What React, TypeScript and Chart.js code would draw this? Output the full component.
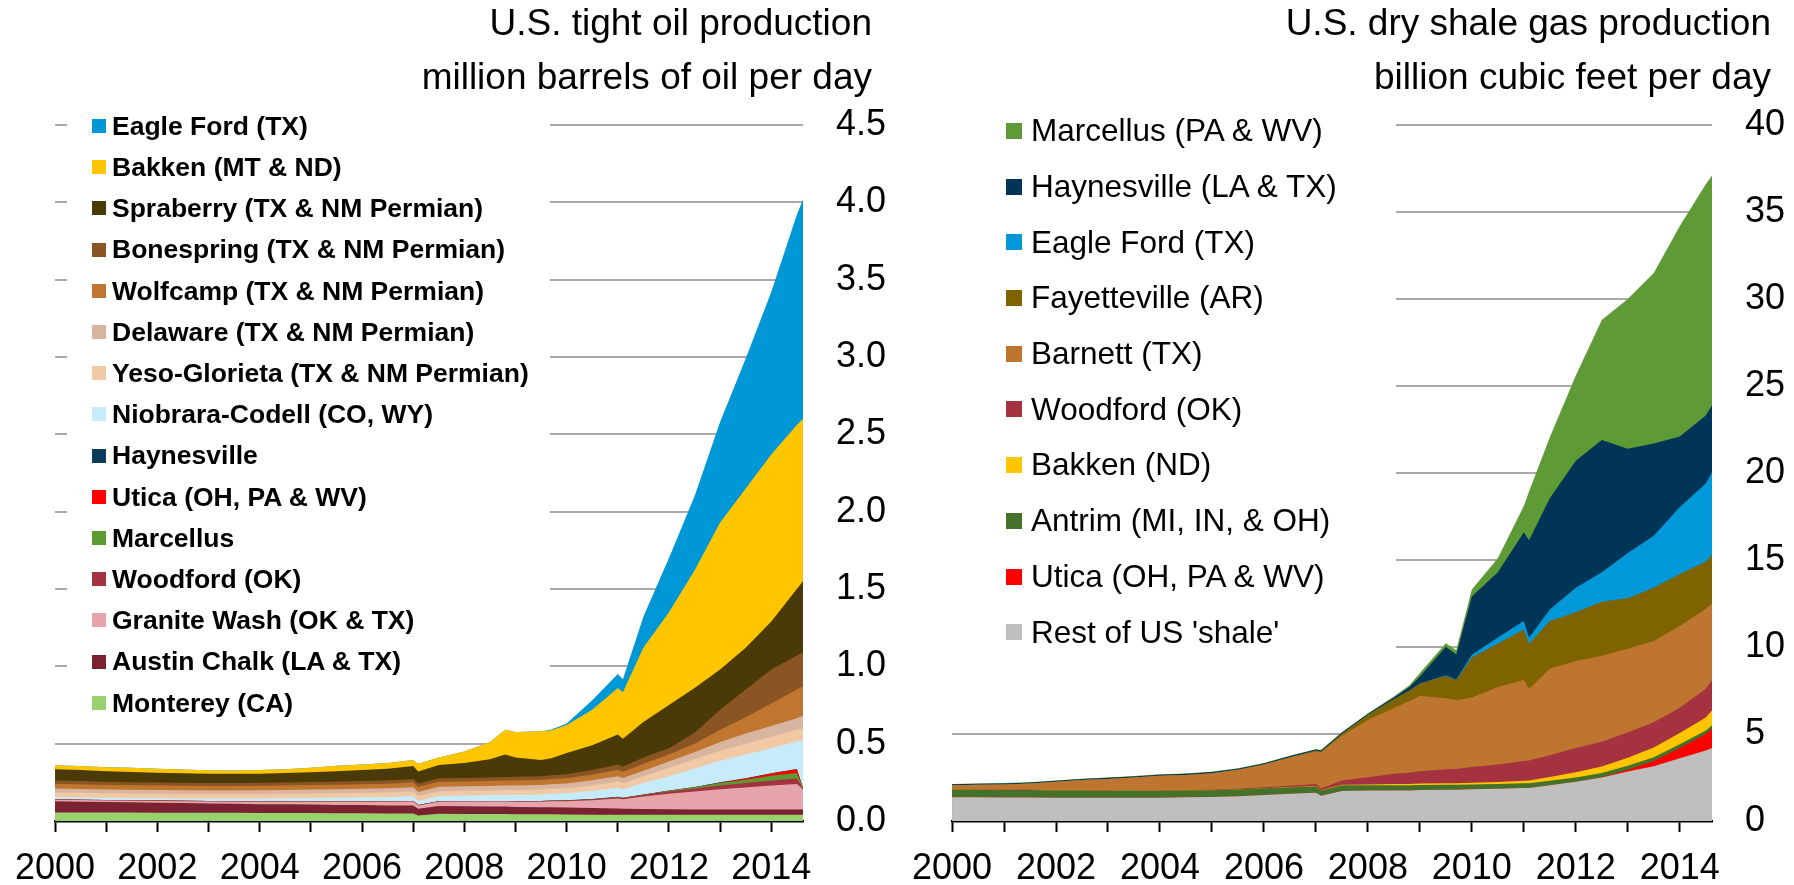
import React, { useEffect, useRef } from 'react';
import { Chart, registerables } from 'chart.js';

Chart.register(...registerables);

const FONT = '"Liberation Sans", Arial, Helvetica, sans-serif';

// Sample dates (decimal years)
const years = [
  2000, 2000.5, 2001, 2001.5, 2002, 2002.5, 2003, 2003.5, 2004, 2004.5,
  2005, 2005.5, 2006, 2006.5, 2007, 2007.1, 2007.5, 2008, 2008.5, 2008.8,
  2009, 2009.5, 2009.7, 2010, 2010.5, 2011, 2011.1, 2011.5, 2012, 2012.5,
  2013, 2013.5, 2014, 2014.5, 2014.62,
];

// ---------- Tight oil (million b/d), stacked bottom -> top ----------
const monterey = [0.055, 0.055, 0.055, 0.055, 0.054, 0.054, 0.053, 0.053, 0.052, 0.052, 0.051, 0.05, 0.05, 0.049, 0.048, 0.035, 0.047, 0.046, 0.045, 0.045, 0.044, 0.043, 0.043, 0.042, 0.041, 0.041, 0.04, 0.04, 0.04, 0.04, 0.04, 0.04, 0.04, 0.04, 0.04];
const austinChalk = [0.072, 0.07, 0.068, 0.066, 0.064, 0.062, 0.06, 0.058, 0.057, 0.056, 0.055, 0.054, 0.053, 0.052, 0.052, 0.045, 0.05, 0.05, 0.049, 0.048, 0.047, 0.046, 0.046, 0.045, 0.043, 0.04, 0.039, 0.038, 0.036, 0.035, 0.035, 0.035, 0.035, 0.035, 0.035];
const graniteWash = [0.01, 0.01, 0.01, 0.01, 0.012, 0.012, 0.013, 0.014, 0.015, 0.016, 0.018, 0.02, 0.022, 0.024, 0.026, 0.02, 0.028, 0.03, 0.032, 0.033, 0.034, 0.036, 0.038, 0.04, 0.05, 0.065, 0.062, 0.08, 0.1, 0.115, 0.13, 0.142, 0.155, 0.165, 0.13];
const woodfordOil = [0.003, 0.003, 0.003, 0.003, 0.003, 0.003, 0.003, 0.003, 0.003, 0.003, 0.003, 0.003, 0.003, 0.003, 0.003, 0.003, 0.003, 0.003, 0.003, 0.003, 0.004, 0.004, 0.004, 0.005, 0.006, 0.008, 0.008, 0.01, 0.015, 0.02, 0.025, 0.028, 0.032, 0.035, 0.003];
const marcellusOil = [0, 0, 0, 0, 0, 0, 0, 0, 0, 0, 0, 0, 0, 0, 0, 0, 0, 0, 0, 0, 0, 0, 0, 0, 0, 0, 0, 0.002, 0.004, 0.008, 0.015, 0.022, 0.03, 0.035, 0.002];
const uticaOil = [0, 0, 0, 0, 0, 0, 0, 0, 0, 0, 0, 0, 0, 0, 0, 0, 0, 0, 0, 0, 0, 0, 0, 0, 0, 0, 0, 0, 0, 0, 0.003, 0.008, 0.015, 0.025, 0.001];
const haynesvilleOil = [0, 0, 0, 0, 0, 0, 0, 0, 0, 0, 0, 0, 0, 0, 0, 0, 0, 0, 0, 0, 0, 0.001, 0.002, 0.002, 0.002, 0.002, 0.002, 0.002, 0.002, 0.002, 0.002, 0.002, 0.002, 0.002, 0.001];
const niobrara = [0.015, 0.014, 0.014, 0.014, 0.014, 0.015, 0.016, 0.017, 0.019, 0.02, 0.022, 0.024, 0.025, 0.027, 0.031, 0.027, 0.034, 0.036, 0.039, 0.041, 0.041, 0.042, 0.044, 0.046, 0.053, 0.059, 0.055, 0.073, 0.093, 0.12, 0.14, 0.153, 0.161, 0.178, 0.308];
const yesoGlorieta = [0.03, 0.03, 0.03, 0.03, 0.029, 0.029, 0.029, 0.029, 0.029, 0.029, 0.029, 0.029, 0.03, 0.03, 0.03, 0.03, 0.031, 0.03, 0.03, 0.03, 0.03, 0.031, 0.031, 0.032, 0.035, 0.04, 0.038, 0.045, 0.055, 0.06, 0.065, 0.07, 0.075, 0.075, 0.075];
const delaware = [0.025, 0.025, 0.024, 0.024, 0.024, 0.024, 0.024, 0.024, 0.024, 0.024, 0.025, 0.025, 0.025, 0.026, 0.028, 0.028, 0.029, 0.029, 0.029, 0.03, 0.03, 0.03, 0.03, 0.031, 0.033, 0.035, 0.034, 0.035, 0.04, 0.045, 0.055, 0.065, 0.07, 0.075, 0.085];
const wolfcamp = [0.03, 0.03, 0.029, 0.029, 0.029, 0.029, 0.029, 0.029, 0.029, 0.029, 0.029, 0.03, 0.03, 0.03, 0.032, 0.032, 0.032, 0.032, 0.032, 0.032, 0.032, 0.032, 0.033, 0.034, 0.037, 0.04, 0.039, 0.045, 0.045, 0.055, 0.08, 0.105, 0.145, 0.185, 0.19];
const bonespring = [0.022, 0.021, 0.021, 0.02, 0.02, 0.019, 0.019, 0.019, 0.019, 0.02, 0.02, 0.02, 0.02, 0.021, 0.022, 0.022, 0.022, 0.022, 0.023, 0.023, 0.024, 0.025, 0.025, 0.026, 0.03, 0.035, 0.035, 0.04, 0.04, 0.07, 0.13, 0.18, 0.22, 0.22, 0.22];
const spraberry = [0.073, 0.072, 0.068, 0.066, 0.063, 0.061, 0.059, 0.059, 0.059, 0.061, 0.063, 0.067, 0.072, 0.076, 0.083, 0.078, 0.086, 0.097, 0.118, 0.145, 0.124, 0.105, 0.11, 0.137, 0.16, 0.195, 0.18, 0.23, 0.28, 0.29, 0.26, 0.27, 0.31, 0.43, 0.46];
const bakkenOil = [0.025, 0.025, 0.026, 0.028, 0.026, 0.025, 0.023, 0.022, 0.024, 0.025, 0.03, 0.036, 0.035, 0.037, 0.04, 0.05, 0.048, 0.075, 0.11, 0.16, 0.165, 0.185, 0.18, 0.18, 0.23, 0.3, 0.3, 0.48, 0.6, 0.76, 0.95, 1.03, 1.08, 1.06, 1.05];
const eagleFordOil = [0, 0, 0, 0, 0, 0, 0, 0, 0, 0, 0, 0, 0, 0, 0, 0, 0, 0, 0, 0, 0, 0, 0.005, 0.01, 0.06, 0.09, 0.085, 0.2, 0.35, 0.48, 0.65, 0.84, 1.05, 1.36, 1.42];

// ---------- Dry shale gas (bcf/d), stacked bottom -> top ----------
const restShale = [1.37, 1.36, 1.35, 1.35, 1.34, 1.34, 1.33, 1.34, 1.34, 1.36, 1.38, 1.42, 1.5, 1.57, 1.62, 1.45, 1.72, 1.75, 1.76, 1.76, 1.78, 1.8, 1.8, 1.82, 1.85, 1.9, 1.9, 2.05, 2.25, 2.5, 2.85, 3.15, 3.6, 4.05, 4.2];
const uticaGas = [0, 0, 0, 0, 0, 0, 0, 0, 0, 0, 0, 0, 0, 0, 0, 0, 0, 0, 0, 0, 0, 0, 0, 0, 0, 0, 0, 0, 0, 0.02, 0.1, 0.3, 0.6, 0.95, 1.1];
const antrim = [0.44, 0.44, 0.43, 0.43, 0.42, 0.42, 0.41, 0.41, 0.4, 0.4, 0.39, 0.39, 0.38, 0.37, 0.36, 0.3, 0.33, 0.3, 0.3, 0.29, 0.29, 0.28, 0.28, 0.28, 0.27, 0.27, 0.27, 0.26, 0.25, 0.24, 0.23, 0.22, 0.21, 0.2, 0.2];
const bakkenGas = [0, 0, 0, 0, 0, 0, 0, 0, 0, 0, 0, 0, 0, 0.01, 0.02, 0.02, 0.03, 0.05, 0.06, 0.07, 0.08, 0.09, 0.09, 0.1, 0.12, 0.15, 0.16, 0.22, 0.3, 0.37, 0.45, 0.55, 0.65, 0.75, 0.85];
const woodfordGas = [0.01, 0.01, 0.01, 0.01, 0.01, 0.01, 0.01, 0.01, 0.02, 0.02, 0.03, 0.04, 0.06, 0.08, 0.12, 0.1, 0.25, 0.42, 0.6, 0.66, 0.71, 0.8, 0.82, 0.9, 1.0, 1.13, 1.15, 1.25, 1.4, 1.43, 1.45, 1.45, 1.45, 1.65, 1.75];
const barnett = [0.23, 0.27, 0.31, 0.36, 0.48, 0.58, 0.67, 0.74, 0.84, 0.87, 0.95, 1.1, 1.31, 1.62, 1.88, 2.08, 2.57, 3.28, 3.78, 4.12, 4.34, 4.08, 3.95, 4.0, 4.46, 4.65, 4.1, 4.97, 5.0, 4.94, 4.82, 4.68, 4.69, 4.6, 4.4];
const fayetteville = [0, 0, 0, 0, 0, 0, 0, 0, 0, 0, 0, 0, 0, 0.02, 0.05, 0.05, 0.12, 0.3, 0.5, 0.6, 0.7, 1.3, 1.15, 2.3, 2.5, 2.9, 2.6, 2.75, 2.8, 3.1, 2.9, 3.05, 3.0, 2.7, 2.8];
const eagleFordGas = [0, 0, 0, 0, 0, 0, 0, 0, 0, 0, 0, 0, 0, 0, 0, 0, 0, 0, 0, 0, 0, 0.02, 0.03, 0.15, 0.35, 0.5, 0.35, 0.65, 1.4, 1.7, 2.6, 3.0, 3.85, 4.5, 4.75];
const haynesvilleGas = [0.06, 0.06, 0.06, 0.06, 0.06, 0.06, 0.06, 0.06, 0.06, 0.06, 0.06, 0.06, 0.06, 0.06, 0.06, 0.06, 0.06, 0.06, 0.1, 0.2, 0.4, 1.65, 1.45, 3.35, 3.75, 5.1, 5.6, 6.4, 7.3, 7.6, 6.0, 5.3, 4.05, 3.9, 3.85];
const marcellusGas = [0.02, 0.02, 0.02, 0.02, 0.02, 0.02, 0.02, 0.02, 0.02, 0.02, 0.02, 0.02, 0.02, 0.02, 0.02, 0.02, 0.02, 0.02, 0.05, 0.1, 0.2, 0.2, 0.25, 0.4, 0.8, 1.5, 2.8, 3.5, 4.9, 6.9, 8.6, 9.8, 12.1, 13.3, 13.2];

type Series = { label: string; color: string; values: number[] };

// bottom -> top
const oilSeries: Series[] = [
  { label: 'Monterey (CA)', color: '#99D16E', values: monterey },
  { label: 'Austin Chalk (LA & TX)', color: '#7A2231', values: austinChalk },
  { label: 'Granite Wash (OK & TX)', color: '#E5A5AB', values: graniteWash },
  { label: 'Woodford (OK)', color: '#A53240', values: woodfordOil },
  { label: 'Marcellus', color: '#5E9A32', values: marcellusOil },
  { label: 'Utica (OH, PA & WV)', color: '#FF0000', values: uticaOil },
  { label: 'Haynesville', color: '#0B3D5A', values: haynesvilleOil },
  { label: 'Niobrara-Codell (CO, WY)', color: '#C6EBFA', values: niobrara },
  { label: 'Yeso-Glorieta (TX & NM Permian)', color: '#F1C9A4', values: yesoGlorieta },
  { label: 'Delaware (TX & NM Permian)', color: '#D8B5A1', values: delaware },
  { label: 'Wolfcamp (TX & NM Permian)', color: '#C0762F', values: wolfcamp },
  { label: 'Bonespring (TX & NM Permian)', color: '#8A5522', values: bonespring },
  { label: 'Spraberry (TX & NM Permian)', color: '#4A3A07', values: spraberry },
  { label: 'Bakken (MT & ND)', color: '#FFC600', values: bakkenOil },
  { label: 'Eagle Ford (TX)', color: '#0097D7', values: eagleFordOil },
];

const gasSeries: Series[] = [
  { label: "Rest of US 'shale'", color: '#BFBFBF', values: restShale },
  { label: 'Utica (OH, PA & WV)', color: '#FF0000', values: uticaGas },
  { label: 'Antrim (MI, IN, & OH)', color: '#44722A', values: antrim },
  { label: 'Bakken (ND)', color: '#FFC600', values: bakkenGas },
  { label: 'Woodford (OK)', color: '#A53240', values: woodfordGas },
  { label: 'Barnett (TX)', color: '#BE752F', values: barnett },
  { label: 'Fayetteville (AR)', color: '#7F6300', values: fayetteville },
  { label: 'Eagle Ford (TX)', color: '#0098D8', values: eagleFordGas },
  { label: 'Haynesville (LA & TX)', color: '#003558', values: haynesvilleGas },
  { label: 'Marcellus (PA & WV)', color: '#5E9A35', values: marcellusGas },
];

const oilTitle = ['U.S. tight oil production', 'million barrels of oil per day'];
const gasTitle = ['U.S. dry shale gas production', 'billion cubic feet per day'];

const X_MIN = 2000;
const X_MAX = 2014.62;

const PANEL_W = 897;
const PANEL_H = 885;
const TICK_FONT = 36;

function buildConfig(
  series: Series[],
  yMax: number,
  yStep: number,
  yFmt: (v: number) => string,
  padLeft: number,
  yWidth: number
): any {
  return {
    type: 'line',
    data: {
      datasets: series.map((s) => ({
        label: s.label,
        data: years.map((x, i) => ({ x, y: s.values[i] })),
        backgroundColor: s.color,
        borderColor: s.color,
        borderWidth: 0,
        pointRadius: 0,
        pointHoverRadius: 0,
        fill: 'origin',
        tension: 0,
      })),
    },
    options: {
      animation: false,
      responsive: false,
      events: [],
      layout: { padding: { left: padLeft, top: 125, right: 0, bottom: 0 } },
      plugins: {
        legend: { display: false },
        tooltip: { enabled: false },
        title: { display: false },
      },
      scales: {
        x: {
          type: 'linear',
          position: 'bottom',
          min: X_MIN,
          max: X_MAX,
          afterFit: (s: any) => {
            s.height = 64;
          },
          grid: {
            display: true,
            drawOnChartArea: false,
            drawTicks: true,
            tickLength: 11,
            tickColor: '#000',
            tickWidth: 2,
          },
          border: { display: true, color: '#000', width: 2.5 },
          ticks: {
            stepSize: 1,
            autoSkip: false,
            maxRotation: 0,
            minRotation: 0,
            includeBounds: false,
            padding: 15,
            color: '#000',
            font: { size: TICK_FONT, family: FONT },
            callback: (v: number) => {
              const r = Math.round(v);
              return r % 2 === 0 ? String(r) : '';
            },
          },
        },
        y: {
          type: 'linear',
          position: 'right',
          stacked: true,
          min: 0,
          max: yMax,
          afterFit: (s: any) => {
            s.width = yWidth;
          },
          grid: { color: '#A9A9A9', lineWidth: 2, drawTicks: false },
          border: { display: false },
          ticks: {
            stepSize: yStep,
            padding: 33,
            color: '#000',
            font: { size: TICK_FONT, family: FONT },
            callback: (v: number) => yFmt(v),
          },
        },
      },
    },
  };
}

type LegendSpec = {
  box: { left: number; top: number; width: number; height: number };
  markerX: number;
  markerSize: number;
  gap: number;
  firstCenter: number;
  pitch: number;
  fontSize: number;
  bold: boolean;
};

function Panel(props: {
  offset: number;
  series: Series[];
  title: string[];
  titleRight: number;
  config: any;
  legend: LegendSpec;
}) {
  const ref = useRef<HTMLCanvasElement | null>(null);
  useEffect(() => {
    if (!ref.current) return;
    const chart = new Chart(ref.current, props.config);
    return () => chart.destroy();
  }, []);
  const L = props.legend;
  const legendItems = [...props.series].reverse();
  return (
    <div
      style={{
        position: 'absolute',
        left: props.offset,
        top: 0,
        width: PANEL_W,
        height: PANEL_H,
      }}
    >
      <canvas ref={ref} width={PANEL_W} height={PANEL_H} style={{ display: 'block' }} />
      <div
        style={{
          position: 'absolute',
          left: L.box.left,
          top: L.box.top,
          width: L.box.width,
          height: L.box.height,
          background: '#ffffff',
        }}
      />
      {legendItems.map((s, i) => (
        <div
          key={s.label}
          style={{
            position: 'absolute',
            left: L.markerX,
            top: L.firstCenter - L.pitch / 2 + i * L.pitch,
            height: L.pitch,
            display: 'flex',
            alignItems: 'center',
            whiteSpace: 'nowrap',
          }}
        >
          <span
            style={{
              display: 'inline-block',
              width: L.markerSize,
              height: L.markerSize,
              background: s.color,
              marginRight: L.gap,
              flex: 'none',
            }}
          />
          <span
            style={{
              fontFamily: FONT,
              fontSize: L.fontSize,
              fontWeight: L.bold ? 700 : 400,
              lineHeight: 1,
              color: '#000',
            }}
          >
            {s.label}
          </span>
        </div>
      ))}
      <div
        style={{
          position: 'absolute',
          right: props.titleRight,
          top: -3.8,
          textAlign: 'right',
          fontFamily: FONT,
          fontSize: 37,
          lineHeight: '54px',
          color: '#000',
          whiteSpace: 'nowrap',
        }}
      >
        {props.title.map((t) => (
          <div key={t}>{t}</div>
        ))}
      </div>
    </div>
  );
}

export default function App() {
  const oilConfig = buildConfig(oilSeries, 4.5, 0.5, (v) => v.toFixed(1), 50.7, 94);
  const gasConfig = buildConfig(gasSeries, 40, 5, (v) => String(v), 52.3, 82);
  return (
    <div
      style={{
        position: 'absolute',
        left: 0,
        top: 0,
        width: PANEL_W * 2,
        height: PANEL_H,
        background: '#ffffff',
        overflow: 'hidden',
      }}
    >
      <Panel
        offset={0}
        series={oilSeries}
        title={oilTitle}
        titleRight={25}
        config={oilConfig}
        legend={{
          box: { left: 67, top: 108, width: 483, height: 617 },
          markerX: 92,
          markerSize: 14,
          gap: 6,
          firstCenter: 126,
          pitch: 41.2,
          fontSize: 26.5,
          bold: true,
        }}
      />
      <Panel
        offset={PANEL_W}
        series={gasSeries}
        title={gasTitle}
        titleRight={23}
        config={gasConfig}
        legend={{
          box: { left: 52, top: 105, width: 447, height: 575 },
          markerX: 109,
          markerSize: 16,
          gap: 9,
          firstCenter: 131,
          pitch: 55.7,
          fontSize: 31.5,
          bold: false,
        }}
      />
    </div>
  );
}
